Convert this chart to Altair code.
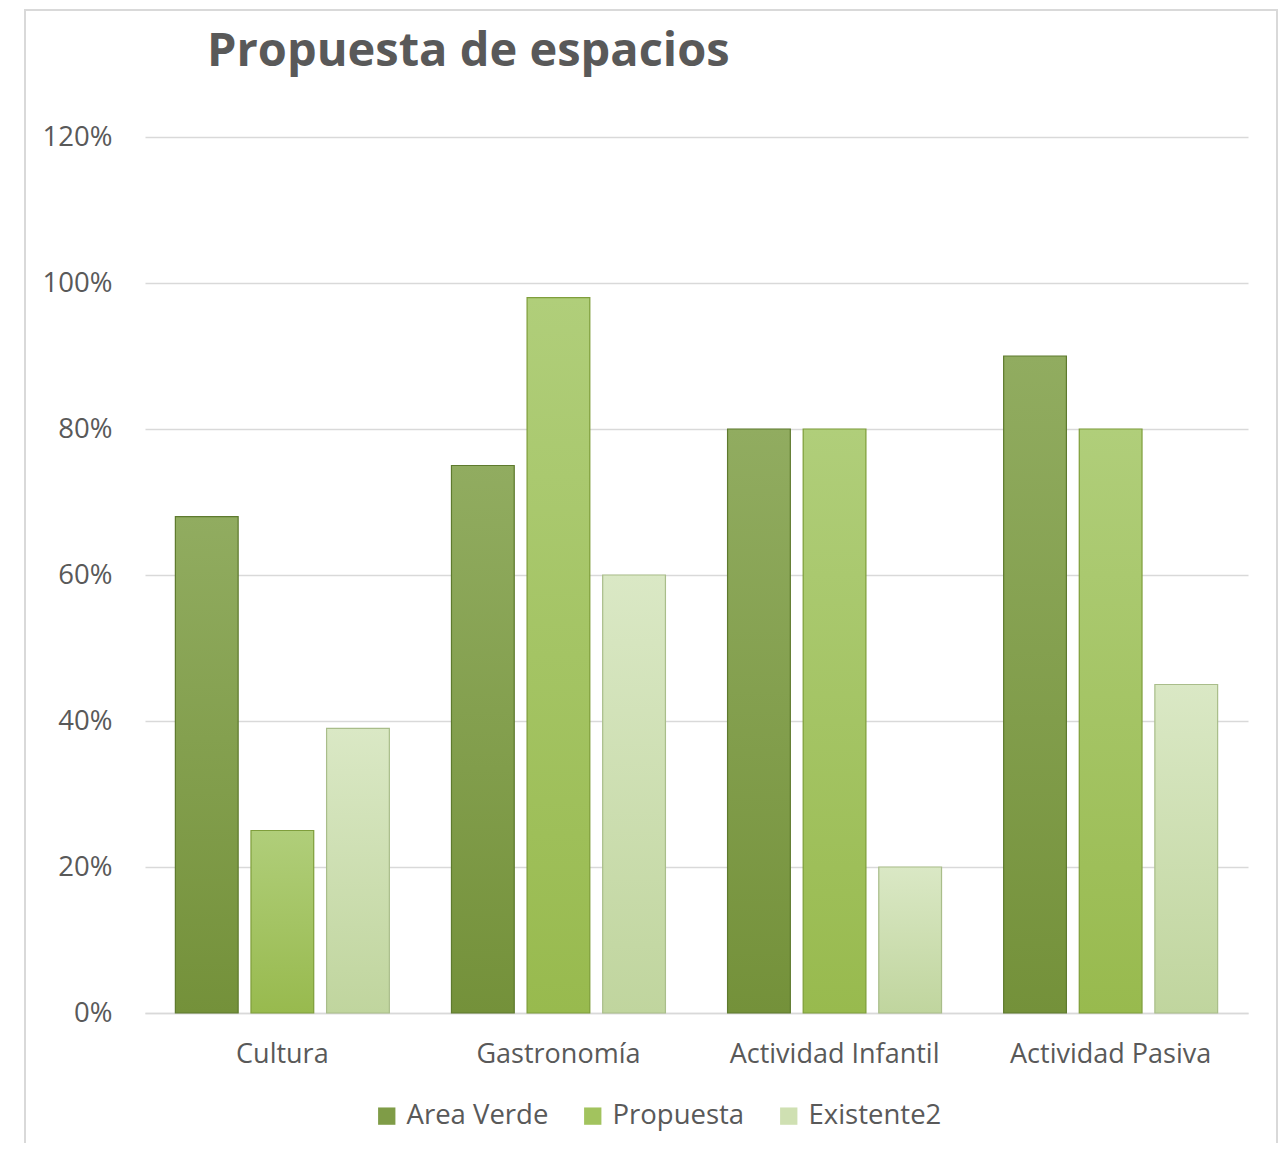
import altair as alt
import pandas as pd

categories = ["Cultura", "Gastronomía", "Actividad Infantil", "Actividad Pasiva"]
series = ["Area Verde", "Propuesta", "Existente2"]
area_verde = [0.68, 0.75, 0.80, 0.90]
propuesta = [0.25, 0.98, 0.80, 0.80]
existente2 = [0.39, 0.60, 0.20, 0.45]
y_ticks = [0, 0.2, 0.4, 0.6, 0.8, 1.0, 1.2]

solid = ["#7f9c47", "#a2c35e", "#cfe0b2"]
grad_top = ["#91ac60", "#b0ce7a", "#dae8c5"]
grad_bot = ["#74913a", "#98ba4e", "#c0d59e"]
edge = ["#5e7a2e", "#7f9e3c", "#a9bd8a"]

rows = []
for s, vals in zip(series, [area_verde, propuesta, existente2]):
    for c, v in zip(categories, vals):
        rows.append({"Categoria": c, "Serie": s, "Valor": v})
df = pd.DataFrame(rows)

W, H = 1103, 876
FONT = "Open Sans"
GRAY = "#595959"

x_enc = alt.X("Categoria:N", sort=categories, title=None,
              scale=alt.Scale(paddingInner=0.225, paddingOuter=0.11),
              axis=alt.Axis(labelAngle=0, labelFont=FONT, labelFontSize=27,
                            labelColor=GRAY, labelPadding=28, ticks=False,
                            labelLimit=0,
                            domainColor="#d9d9d9", domainWidth=1.5))
xo_enc = alt.XOffset("Serie:N", sort=series,
                     scale=alt.Scale(domain=series, paddingInner=0.17, paddingOuter=0))
y_enc = alt.Y("Valor:Q", title=None,
              scale=alt.Scale(domain=[0, 1.2], nice=False),
              axis=alt.Axis(values=y_ticks, format=".0%", labelFont=FONT,
                            labelFontSize=27.5, labelColor=GRAY, labelPadding=33,
                            ticks=False, domain=False, gridColor="#d9d9d9",
                            gridWidth=1.5))

base = alt.Chart(df).mark_bar().encode(
    x=x_enc, xOffset=xo_enc, y=y_enc,
    color=alt.Color("Serie:N", sort=series,
                    scale=alt.Scale(domain=series, range=solid),
                    legend=alt.Legend(title=None, orient="none", direction="horizontal",
                                      legendX=228, legendY=965,
                                      symbolType="square", symbolSize=300,
                                      symbolStrokeWidth=0,
                                      labelFont=FONT, labelFontSize=27.5,
                                      labelColor=GRAY, columnPadding=30,
                                      labelOffset=6)),
)

layers = [base]
for i, s in enumerate(series):
    layers.append(
        alt.Chart(df).transform_filter(alt.datum.Serie == s).mark_bar(
            color=alt.Gradient(gradient="linear",
                               stops=[alt.GradientStop(color=grad_top[i], offset=0),
                                      alt.GradientStop(color=grad_bot[i], offset=1)],
                               x1=0, x2=0, y1=0, y2=1),
            stroke=edge[i], strokeWidth=1.2,
        ).encode(x=x_enc, xOffset=xo_enc, y=y_enc)
    )

frame = alt.Chart(pd.DataFrame({"a": [0]})).mark_rect(
    fill=None, stroke="#d9d9d9", strokeWidth=2
).encode(x=alt.value(-120), x2=alt.value(1132), y=alt.value(-127), y2=alt.value(1030))

chart = alt.layer(frame, *layers).properties(
    width=W, height=H,
    title=alt.TitleParams("Propuesta de espacios", anchor="start", frame="group",
                          dx=62, offset=-104, font=FONT, fontSize=47,
                          fontWeight="bold", color=GRAY, baseline="alphabetic"),
    autosize=alt.AutoSizeParams(type="none"),
    padding={"left": 137, "top": 129, "right": 32, "bottom": 130},
).configure(background="white", view=alt.ViewConfig(stroke=None))

chart.save("out.html", embed_options={"renderer": "svg", "actions": False})
